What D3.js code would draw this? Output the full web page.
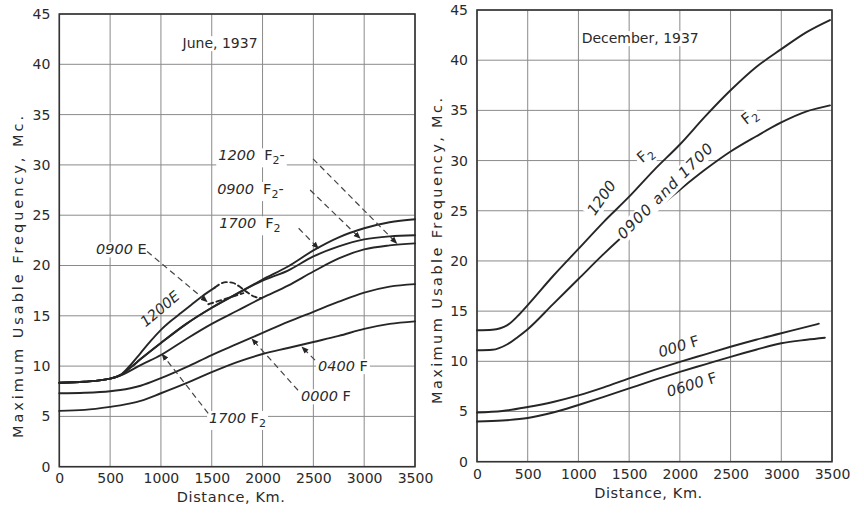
<!DOCTYPE html>
<html>
<head>
<meta charset="utf-8">
<script src="https://cdn.jsdelivr.net/npm/d3@7/dist/d3.min.js"></script>
<style>
  html, body { margin: 0; padding: 0; background: #fff; }
  svg { display: block; }
  text { font-family: "DejaVu Sans", sans-serif; fill: #2a2a2a; }
</style>
</head>
<body>
<svg id="chart" width="864" height="514"></svg>
<script>
// ---------------- DATA ----------------
const xTicks = [0, 500, 1000, 1500, 2000, 2500, 3000, 3500];
const yTicks = [0, 5, 10, 15, 20, 25, 30, 35, 40, 45];

// June, 1937
const juneDist    = [0, 250, 500, 600, 700, 800, 1000, 1250, 1500, 1750, 2000, 2250, 2500, 2750, 3000, 3250, 3500];
const june1200F2  = [8.35, 8.45, 8.75, 9.1, 9.85, 10.7, 12.3, 14.2, 15.8, 17.2, 18.6, 19.9, 21.5, 22.8, 23.7, 24.3, 24.6];
const june0900F2  = [8.35, 8.45, 8.75, 9.1, 9.85, 10.7, 12.3, 14.2, 15.8, 17.2, 18.5, 19.5, 20.9, 21.9, 22.6, 22.9, 23.0];
const june1700F2  = [8.35, 8.45, 8.75, 9.05, 9.55, 10.1, 11.1, 12.7, 14.2, 15.5, 16.8, 18.0, 19.4, 20.7, 21.6, 22.0, 22.2];
const june0000F   = [7.3, 7.35, 7.5, 7.62, 7.8, 8.05, 8.8, 9.9, 11.1, 12.2, 13.3, 14.4, 15.4, 16.4, 17.3, 17.9, 18.15];
const june0400F   = [5.55, 5.65, 5.95, 6.1, 6.3, 6.55, 7.3, 8.3, 9.4, 10.4, 11.2, 11.8, 12.4, 13.0, 13.7, 14.2, 14.45];

const june1200EDist   = [0, 250, 500, 600, 700, 800, 900, 1000, 1100, 1200, 1300, 1400, 1530];
const june1200E       = [8.35, 8.45, 8.75, 9.1, 10.1, 11.3, 12.5, 13.6, 14.5, 15.3, 16.1, 16.9, 17.8];
const june1200EDashDist = [1530, 1580, 1640, 1700, 1760, 1840, 1920, 1990];
const june1200EDash     = [17.8, 18.15, 18.35, 18.3, 18.0, 17.4, 16.9, 16.75];
const june0900EDist   = [1466, 1640, 1811];
const june0900E       = [16.15, 16.7, 17.25];

// December, 1937
const decDist       = [0, 150, 300, 400, 500, 750, 1000, 1250, 1500, 1750, 2000, 2250, 2500, 2750, 3000, 3250, 3480];
const dec1200F2     = [13.1, 13.15, 13.6, 14.5, 15.6, 18.5, 21.2, 23.9, 26.4, 29.1, 31.6, 34.4, 37.0, 39.3, 41.1, 42.8, 44.0];
const dec0900_1700F2= [11.1, 11.15, 11.7, 12.4, 13.2, 15.7, 18.2, 20.7, 23.0, 25.0, 27.1, 29.1, 30.9, 32.4, 33.8, 34.9, 35.5];
const dec000FDist   = [0, 250, 500, 750, 1000, 1250, 1500, 1750, 2000, 2250, 2500, 2750, 3000, 3200, 3370];
const dec000F       = [4.9, 5.05, 5.45, 5.95, 6.6, 7.4, 8.3, 9.15, 9.95, 10.7, 11.45, 12.15, 12.8, 13.3, 13.75];
const dec0600FDist  = [0, 250, 500, 750, 1000, 1250, 1500, 1750, 2000, 2250, 2500, 2750, 3000, 3250, 3430];
const dec0600F      = [4.0, 4.1, 4.35, 4.9, 5.65, 6.45, 7.3, 8.15, 8.95, 9.7, 10.45, 11.15, 11.8, 12.15, 12.35];

// ---------------- SETUP ----------------
const svg = d3.select("#chart");
const INK = "#262626";

function panel(x0, x1, y0, y1) {
  const x = d3.scaleLinear().domain([0, 3500]).range([x0, x1]);
  const y = d3.scaleLinear().domain([0, 45]).range([y1, y0]);
  return {x, y};
}
const L = panel(59.3, 415, 14, 466.7);
const R = panel(477, 832, 10, 461.7);

// arrow marker
const defs = svg.append("defs");
defs.append("marker").attr("id", "arrow")
  .attr("viewBox", "0 0 10 10").attr("refX", 9).attr("refY", 5)
  .attr("markerWidth", 6).attr("markerHeight", 6).attr("orient", "auto")
  .append("path").attr("d", "M0,1 L10,5 L0,9 Z").attr("fill", INK);

function drawFrame(p, tickY, titleY, ylabX, ylabY, ylabLen) {
  const g = svg.append("g");
  g.selectAll(".gx").data(xTicks).join("line")
    .attr("x1", d => p.x(d)).attr("x2", d => p.x(d))
    .attr("y1", p.y(0)).attr("y2", p.y(45))
    .attr("stroke", "#8a8a8a").attr("stroke-width", 1);
  g.selectAll(".gy").data(yTicks).join("line")
    .attr("x1", p.x(0)).attr("x2", p.x(3500))
    .attr("y1", d => p.y(d)).attr("y2", d => p.y(d))
    .attr("stroke", "#8a8a8a").attr("stroke-width", 1);
  g.append("rect")
    .attr("x", p.x(0)).attr("y", p.y(45))
    .attr("width", p.x(3500) - p.x(0)).attr("height", p.y(0) - p.y(45))
    .attr("fill", "none").attr("stroke", "#333").attr("stroke-width", 1.6);
  const ax = d3.axisBottom(p.x).tickValues(xTicks).tickSize(0).tickPadding(0).tickFormat(d3.format("d"));
  const ay = d3.axisLeft(p.y).tickValues(yTicks).tickSize(0).tickPadding(0).tickFormat(d3.format("d"));
  const gx = svg.append("g").attr("transform", `translate(0,${tickY})`).call(ax);
  gx.select(".domain").remove();
  gx.selectAll("text").attr("font-size", 14).attr("dy", "0.35em").attr("fill", INK)
    .style("font-family", "DejaVu Sans");
  const gy = svg.append("g").attr("transform", `translate(${p.x(0) - 9},0)`).call(ay);
  gy.select(".domain").remove();
  gy.selectAll("text").attr("font-size", 14).attr("fill", INK).style("font-family", "DejaVu Sans");
  svg.append("text").attr("x", (p.x(0) + p.x(3500)) / 2 - 6).attr("y", titleY)
    .attr("text-anchor", "middle").attr("font-size", 14.5).attr("letter-spacing", 0.6)
    .text("Distance, Km.");
  svg.append("text").attr("transform", `translate(${ylabX},${ylabY}) rotate(-90)`)
    .attr("text-anchor", "middle").attr("font-size", 14.5)
    .attr("textLength", ylabLen).attr("lengthAdjust", "spacing")
    .text("Maximum Usable Frequency, Mc.");
}

drawFrame(L, 478, 502, 23, 277, 322);
drawFrame(R, 474, 498, 442, 251, 306);

function curve(p, xs, ys, dashed) {
  const pts = xs.map((d, i) => [d, ys[i]]);
  const line = d3.line().x(d => p.x(d[0])).y(d => p.y(d[1])).curve(d3.curveMonotoneX);
  svg.append("path").attr("d", line(pts)).attr("fill", "none")
    .attr("stroke", INK).attr("stroke-width", 1.9)
    .attr("stroke-dasharray", dashed ? "5,3.5" : null)
    .attr("stroke-linecap", "round");
}

// June curves
curve(L, juneDist, june0400F);
curve(L, juneDist, june0000F);
curve(L, juneDist, june1700F2);
curve(L, juneDist, june0900F2);
curve(L, juneDist, june1200F2);
curve(L, june1200EDist, june1200E);
curve(L, june1200EDashDist, june1200EDash, true);
curve(L, june0900EDist, june0900E, true);

// December curves
curve(R, decDist, dec1200F2);
curve(R, decDist, dec0900_1700F2);
curve(R, dec000FDist, dec000F);
curve(R, dec0600FDist, dec0600F);

// ---------------- ANNOTATIONS ----------------
const juneLeaders = [
  [2497, 30.6, 3321, 22.2],
  [2468, 27.5, 2960, 22.7],
  [2355, 23.7, 2549, 21.7],
  [864, 21.4, 1455, 16.4],
  [1465, 5.3, 1011, 11.2],
  [2349, 7.6, 1896, 12.7],
  [2516, 10.6, 2388, 11.9]
];

function label(p, x, y, parts, opts = {}) {
  const g = svg.append("g");
  const px = p.x(x), py = p.y(y);
  const t = g.append("text").attr("font-size", opts.size || 14.5)
    .attr("text-anchor", opts.anchor || "start")
    .attr("transform", `translate(${px},${py}) rotate(${opts.rot || 0})`);
  if (opts.len) t.attr("textLength", opts.len).attr("lengthAdjust", "spacing");
  parts.forEach(part => {
    const ts = t.append("tspan").text(part.t);
    if (part.it) ts.attr("font-style", "italic");
    if (part.sub) ts.attr("font-size", 11).attr("dy", 4);
    if (part.up) ts.attr("dy", -4);
    if (part.dx) ts.attr("dx", part.dx);
  });
  if (opts.bg !== false) {
    const bb = t.node().getBBox();
    g.insert("rect", "text").attr("x", bb.x - 2).attr("y", bb.y + 1)
      .attr("width", bb.width + 4).attr("height", bb.height - 1)
      .attr("fill", "#fff")
      .attr("transform", `translate(${px},${py}) rotate(${opts.rot || 0})`);
  }
}

label(L, 1582, 41.6, [{t: "June, 1937"}], {anchor: "middle", size: 14});
label(L, 1564, 30.45, [{t: "1200", it: true}, {t: "F", dx: 9}, {t: "2", sub: true}, {t: "-", up: true}]);
label(L, 1553, 27.1, [{t: "0900", it: true}, {t: "F", dx: 9}, {t: "2", sub: true}, {t: "-", up: true}]);
label(L, 1574, 23.7, [{t: "1700", it: true}, {t: "F", dx: 9}, {t: "2", sub: true}]);
label(L, 362, 21.1, [{t: "0900", it: true}, {t: " E"}]);
label(L, 1022, 15.3, [{t: "1200", it: true}, {t: "E", it: true}], {anchor: "middle", rot: -40, bg: false});
label(L, 2546, 9.5, [{t: "0400", it: true}, {t: " F"}]);
label(L, 2379, 6.5, [{t: "0000", it: true}, {t: " F"}]);
label(L, 1474, 4.35, [{t: "1700", it: true}, {t: " F"}, {t: "2", sub: true}]);

label(R, 1609, 41.7, [{t: "December, 1937"}], {anchor: "middle", size: 14});
label(R, 1270, 26.0, [{t: "1200", it: true}], {anchor: "middle", rot: -55, size: 15});
label(R, 1688, 30.2, [{t: "F"}, {t: "2", sub: true}], {anchor: "middle", rot: -40, size: 15});
label(R, 1890, 26.6, [{t: "0900", it: true}, {t: " and ", it: true}, {t: "1700", it: true}], {anchor: "middle", rot: -45, size: 15, len: 128});
label(R, 2715, 34.0, [{t: "F"}, {t: "2", sub: true}], {anchor: "middle", rot: -38, size: 15});
label(R, 2004, 11.0, [{t: "000", it: true}, {t: "  F"}], {anchor: "middle", rot: -17, bg: false, size: 15});
label(R, 2132, 7.2, [{t: "0600", it: true}, {t: " F"}], {anchor: "middle", rot: -17, bg: false, size: 15});

svg.append("g").selectAll("line").data(juneLeaders).join("line")
  .attr("x1", d => L.x(d[0])).attr("y1", d => L.y(d[1]))
  .attr("x2", d => L.x(d[2])).attr("y2", d => L.y(d[3]))
  .attr("stroke", "#444").attr("stroke-width", 1.2)
  .attr("stroke-dasharray", "6,4")
  .attr("marker-end", "url(#arrow)");
</script>
</body>
</html>
